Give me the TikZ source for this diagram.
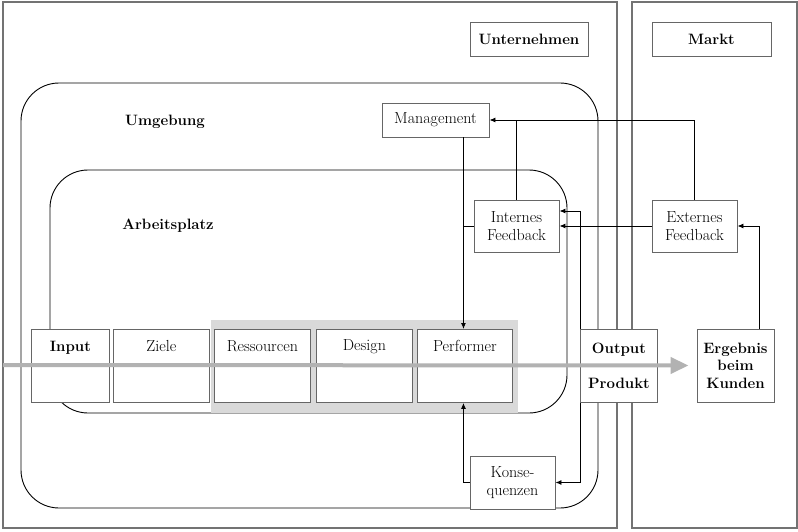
\documentclass[tikz,border=0pt]{standalone}
\usepackage{fontspec}
\usetikzlibrary{arrows.meta}

\newcommand{\figfont}{\fontsize{16}{17.5}\selectfont}
\newcommand{\headfont}{\fontsize{15}{17.5}\selectfont\bfseries}

\begin{document}
\begin{tikzpicture}[
  x = 1pt, y = -1pt,
  line width = 0.9pt,
  font = \figfont,
  >={Latex[length=6pt, width=5pt]},
  frame/.style = {draw = black!55, line width = 1.1pt},
  zone/.style = {draw, rounded corners = 38pt},
  heading/.style = {font = \headfont},
  cell/.style = {draw = black!60, fill = white, inner sep = 0pt,
    minimum height = 73pt, text height = 22pt, text depth = 51pt},
  tag/.style = {draw = black!60, fill = white, inner sep = 0pt,
    align = center},
  pipe/.style = {draw = black!30, line width = 4pt,
    -{Triangle[length=18pt, width=16pt]}}
  ]

  \useasboundingbox (0,0) rectangle (798,532);

  % Frames
  \draw [frame] (3,2) rectangle (617,528);
  \draw [frame] (632,2) rectangle (797,528);
  \node at (529,39) [tag, heading, minimum width = 118pt,
    minimum height = 34pt, name = unternehmen] {Unternehmen};
  \node at (711.5,39) [tag, heading, minimum width = 119pt,
    minimum height = 34pt, name = markt] {Markt};

  % Zones
  \draw [zone] (21,83) rectangle (598,508);
  \draw [zone] (50,170) rectangle (567,413);
  \node at (165,122) [heading, name = umgebung] {Umgebung};
  \node at (168,226) [heading, name = arbeitsplatz] {Arbeitsplatz};
  \fill [black!15] (211,320) rectangle (518,413);

  % Nodes
  \node at (31,329) [cell, anchor = north west, minimum width = 78pt,
    heading, name = input] {Input};
  \node at (113,329) [cell, anchor = north west, minimum width = 96pt,
    name = ziele] {Ziele};
  \node at (214,329) [cell, anchor = north west, minimum width = 96pt,
    name = ress] {Ressourcen};
  \node at (316,329) [cell, anchor = north west, minimum width = 96pt,
    text height = 21pt, text depth = 52pt, name = design] {Design};
  \node at (417,329) [cell, anchor = north west, minimum width = 95pt,
    name = perf] {Performer};

  \node at (580,329) [tag, anchor = north west, minimum width = 77pt,
    minimum height = 73pt, heading, name = out]
    {Output\\[18pt]Produkt};
  \node at (735.5,365.5) [tag, minimum width = 77pt, minimum height = 73pt,
    heading, name = erg] {Ergebnis\\beim\\Kunden};

  \node at (435.5,120) [tag, minimum width = 107pt, minimum height = 34pt,
    name = mgmt] {Management};
  \node at (516.5,226) [tag, minimum width = 85pt, minimum height = 52pt,
    name = intfb] {Internes\\Feedback};
  \node at (694.5,226) [tag, minimum width = 85pt, minimum height = 52pt,
    name = extfb] {Externes\\Feedback};
  \node at (512.5,482.5) [tag, minimum width = 85pt, minimum height = 53pt,
    name = kons] {Konse-\\quenzen};

  % Connectors
  \draw [->] ([xshift=-1.5pt]perf.north |- mgmt.south) -- ([xshift=-1.5pt]perf.north);
  \draw (intfb.west) -- ([xshift=-1.5pt]intfb.west -| perf.north);
  \draw [->] (extfb.north) |- (mgmt.east);
  \draw (intfb.north) -- (intfb.north |- mgmt.east);
  \draw [->] (extfb.west) -- (intfb.east);
  \draw [->] ([xshift=-15pt]erg.north east) |- (extfb.east);
  \draw [->] (out.north west) |- ([yshift=15pt]intfb.east);
  \draw [->] (out.south west) |- (kons.east);
  \draw [->] (kons.west) -| ([xshift=-1.5pt]perf.south);

  % Flow
  \coordinate (inflow) at (3,365);
  \draw [pipe] (inflow) -- ([xshift=-8pt]erg.west);

\end{tikzpicture}
\end{document}
